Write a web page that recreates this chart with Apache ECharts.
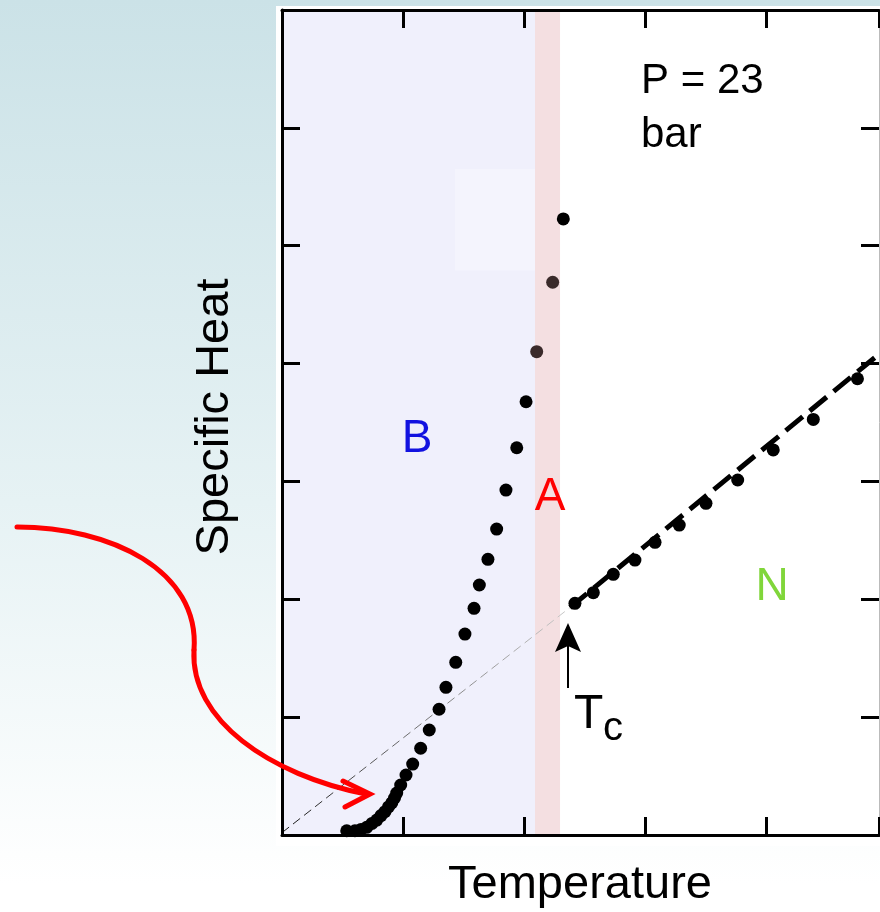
<!DOCTYPE html>
<html>
<head>
<meta charset="utf-8">
<script src="https://cdn.jsdelivr.net/npm/echarts@6/dist/echarts.min.js"></script>
<style>
html,body{margin:0;padding:0;}
#chart{width:880px;height:912px;}
</style>
</head>
<body>
<div id="chart"></div>
<script>
// ---- data ----
const xRange = [0, 4.934];
const yRange = [0, 7];
const tickStep = 1;

// superfluid B phase specific heat points
const bPhase = [
  [0.535,0.036],[0.603,0.036],[0.653,0.047],[0.700,0.065],[0.744,0.098],
  [0.783,0.127],[0.818,0.165],[0.851,0.198],[0.880,0.238],[0.907,0.272],
  [0.930,0.314],[0.948,0.356],[0.981,0.424],[1.025,0.509],[1.080,0.602],
  [1.146,0.736],[1.217,0.891],[1.298,1.067],[1.355,1.253],[1.436,1.465],
  [1.512,1.705],[1.587,1.923],[1.631,2.121],[1.702,2.339],[1.774,2.596],
  [1.851,2.927],[1.940,3.286],[2.017,3.676]
];
// points inside the A band (drawn brownish)
const aPhase = [[2.105,4.101],[2.237,4.690]];
const peakPoint = [[2.325,5.227]];

// normal phase points
const nPhase = [
  [2.421,1.966],[2.573,2.056],[2.738,2.212],[2.917,2.333],[3.083,2.483],
  [3.283,2.630],[3.504,2.814],[3.766,3.012],[4.060,3.267],[4.391,3.526],
  [4.756,3.871]
];
// dashed normal-state line and its thin extrapolation to zero
const nLine = [[2.38,1.93],[4.934,4.08]];
const extrapLine = [[0,0.02],[2.38,1.93]];

// shaded phase regions (x bounds)
const bRegion = [0, 2.091];
const aRegion = [2.091, 2.298];
const paleBox = [[1.430, 4.79],[2.091, 5.65]];

const labels = {
  xTitle: 'Temperature',
  yTitle: 'Specific Heat',
  pressure1: 'P = 23',
  pressure2: 'bar',
  b: 'B', a: 'A', n: 'N', tc: 'T', tcSub: 'c'
};

// ---- chart ----
const FONT = 'Liberation Sans, Arial, Helvetica, sans-serif';
const chart = echarts.init(document.getElementById('chart'), null, {renderer:'canvas'});

function axisCommon(pos, showLine, lineColor, lineWidth) {
  return {
    type: 'value', position: pos, z: 6,
    interval: tickStep,
    axisLine: {show: showLine, onZero: false, lineStyle: {color: lineColor, width: lineWidth}},
    axisTick: {show: true, inside: true, length: 18, lineStyle: {color: '#000', width: 3}},
    axisLabel: {show: false},
    splitLine: {show: false}
  };
}

const option = {
  animation: false,
  backgroundColor: {
    type: 'linear', x: 0, y: 0, x2: 0, y2: 1,
    colorStops: [{offset: 0, color: '#cbe2e7'}, {offset: 0.55, color: '#e6f2f4'}, {offset: 0.97, color: '#ffffff'}, {offset: 1, color: '#ffffff'}]
  },
  grid: {left: 282, right: 1, top: 10, bottom: 77, show: false},
  xAxis: [
    Object.assign(axisCommon('bottom', true, '#000', 3), {min: xRange[0], max: xRange[1]}),
    Object.assign(axisCommon('top', true, '#000', 3), {min: xRange[0], max: xRange[1]})
  ],
  yAxis: [
    Object.assign(axisCommon('left', true, '#000', 3), {min: yRange[0], max: yRange[1]}),
    Object.assign(axisCommon('right', true, '#bbbbbb', 1), {min: yRange[0], max: yRange[1]})
  ],
  graphic: [
    {type: 'rect', z: -10, silent: true, shape: {x: 276, y: 6, width: 604, height: 840}, style: {fill: '#ffffff'}},
    // red curved arrow
    {type: 'bezierCurve', z: 100, silent: true,
      shape: {x1: 17, y1: 527, cpx1: 110, cpy1: 527, cpx2: 200, cpy2: 570, x2: 194, y2: 650},
      style: {stroke: '#ff0000', lineWidth: 5, fill: null, lineCap: 'round'}},
    {type: 'bezierCurve', z: 100, silent: true,
      shape: {x1: 194, y1: 650, cpx1: 190, cpy1: 720, cpx2: 270, cpy2: 775, x2: 366, y2: 794},
      style: {stroke: '#ff0000', lineWidth: 5, fill: null, lineCap: 'round'}},
    {type: 'polyline', z: 100, silent: true,
      shape: {points: [[343,781],[370,794],[345,807]]},
      style: {stroke: '#ff0000', lineWidth: 5, fill: null, lineCap: 'round', lineJoin: 'miter'}},
    // Tc arrow
    {type: 'line', z: 100, silent: true, shape: {x1: 568, y1: 688, x2: 568, y2: 640},
      style: {stroke: '#000', lineWidth: 2}},
    {type: 'polygon', z: 100, silent: true,
      shape: {points: [[568,623],[581,652],[568,646],[555,652]]},
      style: {fill: '#000'}},
    // texts
    {type: 'text', z: 100, x: 580, y: 885, style: {text: labels.xTitle, font: '47px ' + FONT, fill: '#000', textAlign: 'center', textVerticalAlign: 'middle'}},
    {type: 'text', z: 100, x: 215, y: 417, rotation: Math.PI/2, style: {text: labels.yTitle, font: '47px ' + FONT, fill: '#000', textAlign: 'center', textVerticalAlign: 'middle'}},
    {type: 'text', z: 100, x: 641, y: 81, style: {text: labels.pressure1, font: '42px ' + FONT, fill: '#000', textAlign: 'left', textVerticalAlign: 'middle'}},
    {type: 'text', z: 100, x: 641, y: 135, style: {text: labels.pressure2, font: '42px ' + FONT, fill: '#000', textAlign: 'left', textVerticalAlign: 'middle'}},
    {type: 'text', z: 100, x: 417, y: 439, style: {text: labels.b, font: '46px ' + FONT, fill: '#1212e0', textAlign: 'center', textVerticalAlign: 'middle'}},
    {type: 'text', z: 100, x: 550, y: 497, style: {text: labels.a, font: '46px ' + FONT, fill: '#ff0000', textAlign: 'center', textVerticalAlign: 'middle'}},
    {type: 'text', z: 100, x: 772, y: 587, style: {text: labels.n, font: '46px ' + FONT, fill: '#80d63a', textAlign: 'center', textVerticalAlign: 'middle'}},
    {type: 'text', z: 100, x: 574, y: 715, style: {text: labels.tc, font: '48px ' + FONT, fill: '#000', textAlign: 'left', textVerticalAlign: 'middle'}},
    {type: 'text', z: 100, x: 603, y: 729, style: {text: labels.tcSub, font: '40px ' + FONT, fill: '#000', textAlign: 'left', textVerticalAlign: 'middle'}}
  ],
  series: [
    {
      name: 'regions', type: 'line', z: 1, data: [], symbol: 'none', silent: true,
      markArea: {
        silent: true,
        data: [
          [{xAxis: bRegion[0], itemStyle: {color: '#f0f0fc'}}, {xAxis: bRegion[1]}],
          [{xAxis: aRegion[0], itemStyle: {color: '#f4dfe1'}}, {xAxis: aRegion[1]}],
          [{coord: paleBox[0], itemStyle: {color: '#f4f4fd'}}, {coord: paleBox[1]}]
        ]
      }
    },
    {
      name: 'extrapolation', type: 'line', z: 2, data: extrapLine, symbol: 'none', silent: true,
      lineStyle: {width: 1, type: [9, 5], color: {type: 'linear', x: 0, y: 1, x2: 1, y2: 0,
        colorStops: [{offset: 0, color: '#111'}, {offset: 0.3, color: '#555'}, {offset: 1, color: '#cccccc'}]}}
    },
    {
      name: 'normal line', type: 'line', z: 3, data: nLine, symbol: 'none', silent: true,
      lineStyle: {width: 5, type: [22, 9], color: '#000', cap: 'butt'}
    },
    {name: 'B', type: 'scatter', z: 4, data: bPhase, symbolSize: 13, itemStyle: {color: '#000', opacity: 1}},
    {name: 'A', type: 'scatter', z: 4, data: aPhase, symbolSize: 13, itemStyle: {color: '#3a2a2a', opacity: 1}},
    {name: 'peak', type: 'scatter', z: 4, data: peakPoint, symbolSize: 13, itemStyle: {color: '#000', opacity: 1}},
    {name: 'N', type: 'scatter', z: 4, data: nPhase, symbolSize: 13, itemStyle: {color: '#000', opacity: 1}}
  ]
};
chart.setOption(option);
</script>
</body>
</html>
